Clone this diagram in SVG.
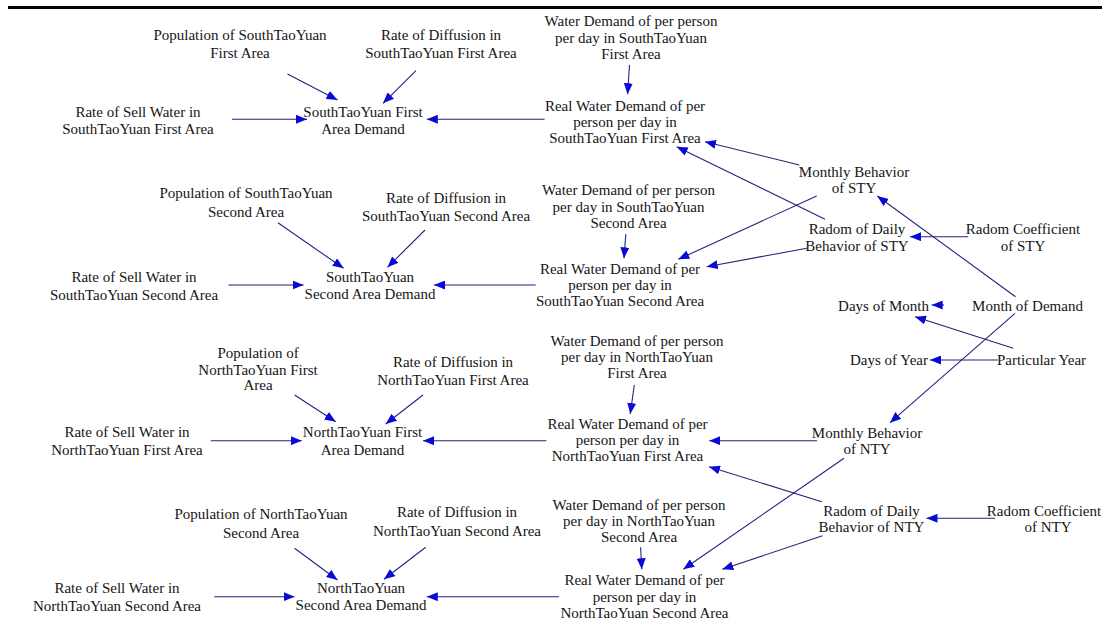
<svg xmlns="http://www.w3.org/2000/svg" width="1102" height="630" viewBox="0 0 1102 630">
<style>
text{font-family:"Liberation Serif","Times New Roman",serif;font-size:15px;fill:#151515;text-anchor:middle}
.c line{stroke:#23237e;stroke-width:1.1;fill:none;marker-end:url(#ah)}
</style>
<defs>
<marker id="ah" markerUnits="userSpaceOnUse" markerWidth="12" markerHeight="9" refX="11" refY="4.5" orient="auto">
<path d="M0,0 L11,4.5 L0,9 Z" fill="#0a0ad6"/>
</marker>
</defs>
<rect x="0" y="0" width="1102" height="630" fill="#fff"/>
<line x1="8" y1="7.5" x2="1102" y2="7.5" stroke="#000" stroke-width="3"/>

<g id="pop_sf"><text><tspan x="240" y="40">Population of SouthTaoYuan</tspan><tspan x="240" y="58">First Area</tspan></text></g>
<g id="diff_sf"><text><tspan x="441" y="40">Rate of Diffusion in</tspan><tspan x="441" y="58">SouthTaoYuan First Area</tspan></text></g>
<g id="wd_sf"><text><tspan x="631" y="26">Water Demand of per person</tspan><tspan x="631" y="42.5">per day in SouthTaoYuan</tspan><tspan x="631" y="58.5">First Area</tspan></text></g>
<g id="sell_sf"><text><tspan x="138" y="117">Rate of Sell Water in</tspan><tspan x="138" y="133.5">SouthTaoYuan First Area</tspan></text></g>
<g id="dem_sf"><text><tspan x="363" y="117">SouthTaoYuan First</tspan><tspan x="363" y="133.5">Area Demand</tspan></text></g>
<g id="real_sf"><text><tspan x="625" y="111">Real Water Demand of per</tspan><tspan x="625" y="127">person per day in</tspan><tspan x="625" y="143">SouthTaoYuan First Area</tspan></text></g>

<g id="monthly_sty"><text><tspan x="854" y="177">Monthly Behavior</tspan><tspan x="854" y="193">of STY</tspan></text></g>
<g id="radom_sty"><text><tspan x="857" y="234">Radom of Daily</tspan><tspan x="857" y="250.5">Behavior of STY</tspan></text></g>
<g id="coef_sty"><text><tspan x="1023" y="234">Radom Coefficient</tspan><tspan x="1023" y="250.5">of STY</tspan></text></g>

<g id="pop_ss"><text><tspan x="246" y="198">Population of SouthTaoYuan</tspan><tspan x="246" y="217">Second Area</tspan></text></g>
<g id="diff_ss"><text><tspan x="446" y="202.5">Rate of Diffusion in</tspan><tspan x="446" y="221">SouthTaoYuan Second Area</tspan></text></g>
<g id="wd_ss"><text><tspan x="628.5" y="195">Water Demand of per person</tspan><tspan x="628.5" y="211.5">per day in SouthTaoYuan</tspan><tspan x="628.5" y="227.5">Second Area</tspan></text></g>
<g id="sell_ss"><text><tspan x="134" y="282">Rate of Sell Water in</tspan><tspan x="134" y="300">SouthTaoYuan Second Area</tspan></text></g>
<g id="dem_ss"><text><tspan x="370" y="282">SouthTaoYuan</tspan><tspan x="370" y="298.5">Second Area Demand</tspan></text></g>
<g id="real_ss"><text><tspan x="620" y="273.5">Real Water Demand of per</tspan><tspan x="620" y="290">person per day in</tspan><tspan x="620" y="306">SouthTaoYuan Second Area</tspan></text></g>

<g id="days_month"><text x="883.5" y="310.5">Days of Month</text></g>
<g id="month_demand"><text x="1027.5" y="310.5">Month of Demand</text></g>
<g id="days_year"><text x="889" y="365">Days of Year</text></g>
<g id="particular_year"><text x="1041.5" y="365">Particular Year</text></g>

<g id="pop_nf"><text><tspan x="258" y="358">Population of</tspan><tspan x="258" y="374.5">NorthTaoYuan First</tspan><tspan x="258" y="390">Area</tspan></text></g>
<g id="diff_nf"><text><tspan x="453" y="367">Rate of Diffusion in</tspan><tspan x="453" y="385">NorthTaoYuan First Area</tspan></text></g>
<g id="wd_nf"><text><tspan x="637" y="346">Water Demand of per person</tspan><tspan x="637" y="362">per day in NorthTaoYuan</tspan><tspan x="637" y="378">First Area</tspan></text></g>
<g id="sell_nf"><text><tspan x="127" y="437">Rate of Sell Water in</tspan><tspan x="127" y="454.5">NorthTaoYuan First Area</tspan></text></g>
<g id="dem_nf"><text><tspan x="362.5" y="437">NorthTaoYuan First</tspan><tspan x="362.5" y="454.5">Area Demand</tspan></text></g>
<g id="real_nf"><text><tspan x="627.5" y="429">Real Water Demand of per</tspan><tspan x="627.5" y="445">person per day in</tspan><tspan x="627.5" y="461">NorthTaoYuan First Area</tspan></text></g>
<g id="monthly_nty"><text><tspan x="867" y="438">Monthly Behavior</tspan><tspan x="867" y="454">of NTY</tspan></text></g>

<g id="pop_ns"><text><tspan x="261" y="518.5">Population of NorthTaoYuan</tspan><tspan x="261" y="537.5">Second Area</tspan></text></g>
<g id="diff_ns"><text><tspan x="457" y="517">Rate of Diffusion in</tspan><tspan x="457" y="535.5">NorthTaoYuan Second Area</tspan></text></g>
<g id="wd_ns"><text><tspan x="639" y="510">Water Demand of per person</tspan><tspan x="639" y="526">per day in NorthTaoYuan</tspan><tspan x="639" y="542">Second Area</tspan></text></g>
<g id="sell_ns"><text><tspan x="117" y="592.5">Rate of Sell Water in</tspan><tspan x="117" y="611">NorthTaoYuan Second Area</tspan></text></g>
<g id="dem_ns"><text><tspan x="361" y="592.5">NorthTaoYuan</tspan><tspan x="361" y="610">Second Area Demand</tspan></text></g>
<g id="real_ns"><text><tspan x="644.5" y="585">Real Water Demand of per</tspan><tspan x="644.5" y="601.5">person per day in</tspan><tspan x="644.5" y="618">NorthTaoYuan Second Area</tspan></text></g>
<g id="radom_nty"><text><tspan x="871.5" y="516">Radom of Daily</tspan><tspan x="871.5" y="532">Behavior of NTY</tspan></text></g>
<g id="coef_nty"><text><tspan x="1044" y="516">Radom Coefficient</tspan><tspan x="1048" y="532">of NTY</tspan></text></g>

<g id="connectors" class="c">
<line x1="287.5" y1="74" x2="337.5" y2="100"/>
<line x1="416" y1="70.7" x2="383" y2="103.3"/>
<line x1="232" y1="119.3" x2="307" y2="119.3"/>
<line x1="544.6" y1="119.3" x2="426.8" y2="119.3"/>
<line x1="629.5" y1="65" x2="627.6" y2="94.3"/>
<line x1="799.3" y1="165" x2="705" y2="141.7"/>
<line x1="825" y1="219.3" x2="676.7" y2="146.7"/>
<line x1="277.9" y1="222.7" x2="343.6" y2="268.3"/>
<line x1="425" y1="230" x2="387.5" y2="267.3"/>
<line x1="228.6" y1="285" x2="303.6" y2="285"/>
<line x1="535.7" y1="285" x2="434" y2="285"/>
<line x1="625.8" y1="234" x2="624" y2="258.3"/>
<line x1="816.7" y1="196" x2="678.3" y2="259.3"/>
<line x1="806.7" y1="248.3" x2="706.7" y2="266.7"/>
<line x1="968.3" y1="236.7" x2="910" y2="236.7"/>
<line x1="1015.5" y1="296.7" x2="877.3" y2="196"/>
<line x1="944" y1="305" x2="931.7" y2="305"/>
<line x1="1013.3" y1="348.3" x2="915" y2="316.7"/>
<line x1="998" y1="360" x2="930" y2="360"/>
<line x1="1015" y1="313.3" x2="890" y2="422.7"/>
<line x1="294.6" y1="395" x2="335.7" y2="421.7"/>
<line x1="423" y1="395" x2="385.7" y2="424"/>
<line x1="210.7" y1="440.7" x2="301.8" y2="440.7"/>
<line x1="546.4" y1="440.7" x2="423" y2="440.7"/>
<line x1="634.3" y1="385" x2="630.2" y2="414"/>
<line x1="817" y1="440.7" x2="709.3" y2="440.7"/>
<line x1="821.7" y1="501.7" x2="709" y2="466.7"/>
<line x1="294.6" y1="548.3" x2="337.5" y2="580"/>
<line x1="425.7" y1="547.3" x2="384" y2="579.3"/>
<line x1="214.3" y1="596.7" x2="294.6" y2="596.7"/>
<line x1="559" y1="596.7" x2="426.8" y2="596.7"/>
<line x1="640.6" y1="547.3" x2="641.8" y2="569.3"/>
<line x1="844" y1="458.3" x2="683.3" y2="569.3"/>
<line x1="822.5" y1="535.7" x2="722.3" y2="569.3"/>
<line x1="995" y1="518.3" x2="926.5" y2="518.3"/>
</g>
</svg>
